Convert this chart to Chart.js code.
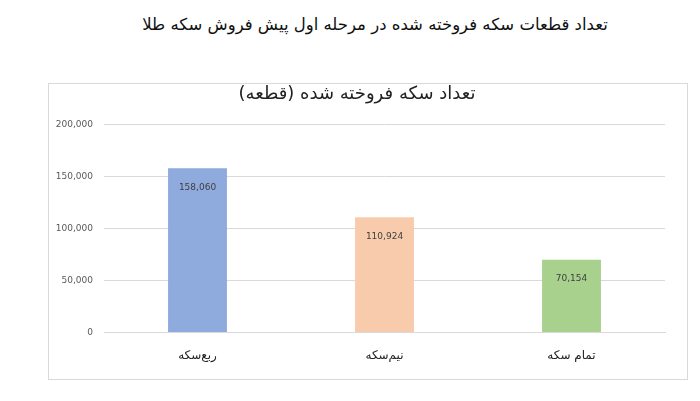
<!DOCTYPE html>
<html>
<head>
<meta charset="utf-8">
<script src="https://cdn.jsdelivr.net/npm/chart.js@4"></script>
<style>
  html, body { margin: 0; padding: 0; background: #fff; }
  body { width: 700px; height: 401px; position: relative; overflow: hidden; font-family: "DejaVu Sans", sans-serif; }
  #page_title { position: absolute; top: 15px; left: 55px; width: 640px; text-align: center; direction: rtl; font-size: 16.5px; color: #111; }
  #chart_box { position: absolute; left: 48px; top: 83px; width: 638px; height: 295px; border: 1px solid #d9d9d9; }
</style>
</head>
<body>
<div id="page_title">تعداد قطعات سکه فروخته شده در مرحله اول پیش فروش سکه طلا</div>
<div id="chart_box"><canvas id="coins_cntxt" width="638" height="295"></canvas></div>
<script>
var chart_title = "تعداد سکه فروخته شده (قطعه)";
var categories = ["ربع‌سکه", "نیم‌سکه", "تمام سکه"];
var coins_sold = [158060, 110924, 70154];
var y_ticks = [0, 50000, 100000, 150000, 200000];

// number written inside the top of each bar
var bar_values = {
    id: 'bar_values',
    afterDatasetsDraw: function(chart) {
        var ctx = chart.ctx;
        ctx.save();
        ctx.font = '9px "DejaVu Sans", sans-serif';
        ctx.fillStyle = '#404040';
        ctx.textAlign = 'center';
        ctx.textBaseline = 'middle';
        chart.getDatasetMeta(0).data.forEach(function(bar, i) {
            ctx.fillText(coins_sold[i].toLocaleString('en-US'), bar.x, bar.y + 19);
        });
        ctx.restore();
    }
};

var current_cntxt = document.getElementById("coins_cntxt").getContext('2d');
var coins_chart = new Chart(current_cntxt, {
    type: 'bar',
    data: {
        labels: categories,
        datasets: [{
            data: coins_sold,
            backgroundColor: ['#8faadc', '#f8cbad', '#a9d18e'],
            borderWidth: 0,
            categoryPercentage: 1,
            barPercentage: 0.315
        }]
    },
    options: {
        responsive: false,
        animation: false,
        layout: { padding: { left: 0, right: 22, top: 0, bottom: 8 } },
        plugins: {
            legend: { display: false },
            tooltip: { enabled: false },
            title: {
                display: true,
                text: chart_title,
                color: '#222',
                font: { family: '"DejaVu Sans", sans-serif', size: 18, weight: 'normal' },
                padding: { top: 0, bottom: 19 }
            }
        },
        scales: {
            x: {
                grid: { display: false },
                border: { color: '#d9d9d9' },
                ticks: { color: '#222', padding: 8, font: { family: '"DejaVu Sans", sans-serif', size: 12 } }
            },
            y: {
                min: 0,
                max: 200000,
                afterBuildTicks: function(scale) {
                    scale.ticks = y_ticks.map(function(v) { return { value: v }; });
                },
                afterFit: function(scale) { scale.width = 55; },
                grid: { color: '#d9d9d9', drawTicks: false },
                border: { display: false },
                ticks: {
                    color: '#595959',
                    padding: 11,
                    font: { family: '"DejaVu Sans", sans-serif', size: 9 },
                    callback: function(v) { return v.toLocaleString('en-US'); }
                }
            }
        }
    },
    plugins: [bar_values]
});
</script>
</body>
</html>
